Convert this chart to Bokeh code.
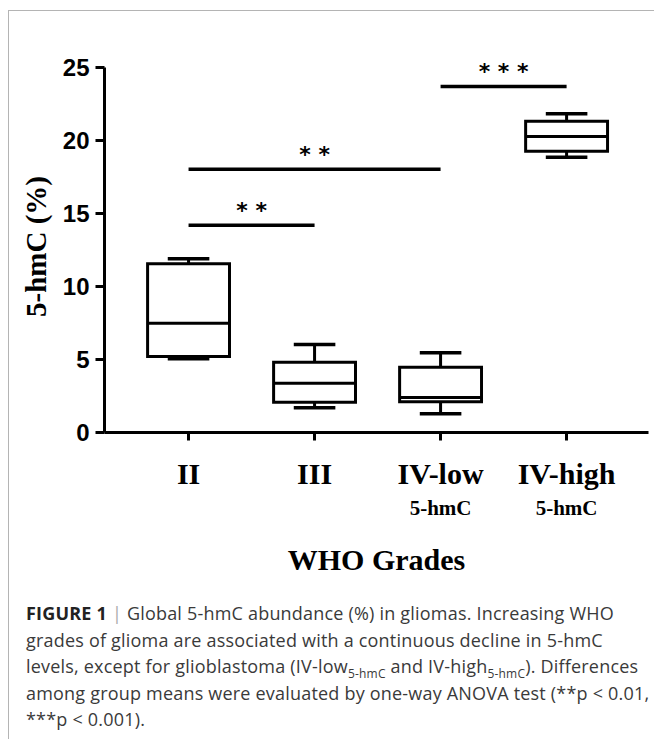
from bokeh.plotting import figure
from bokeh.models import FixedTicker, LinearAxis, Div, Range1d
from bokeh.layouts import column
from bokeh.embed import file_html
from bokeh.resources import INLINE
from bokeh.core.properties import value

# ---- data ----
groups = ["II", "III", "IV-low", "IV-high"]
group_sub = ["", "", "5-hmC", "5-hmC"]
whisker_low = [5.05, 1.69, 1.28, 18.86]
q1 = [5.2, 2.08, 2.1, 19.27]
median = [7.49, 3.38, 2.4, 20.27]
q3 = [11.55, 4.82, 4.47, 21.32]
whisker_high = [11.9, 6.03, 5.46, 21.83]

sig_from = [0, 0, 2]
sig_to = [1, 2, 3]
sig_level = [14.2, 18.03, 23.7]
sig_text = ["* *", "* *", "* * *"]

y_ticks = [0, 5, 10, 15, 20, 25]

xs = list(range(len(groups)))
box_w = 0.65
cap_w = 0.33

p = figure(width=645, height=584,
           x_range=Range1d(-0.667, 3.65), y_range=Range1d(0, 25.48),
           output_backend="svg", toolbar_location=None,
           min_border_left=95, min_border_right=6,
           min_border_top=49, min_border_bottom=163)
p.outline_line_color = None
p.grid.visible = False
p.background_fill_color = "white"
p.border_fill_color = "white"

# whiskers
p.segment(x0=xs, y0=q3, x1=xs, y1=whisker_high, line_color="black", line_width=3)
p.segment(x0=xs, y0=q1, x1=xs, y1=whisker_low, line_color="black", line_width=3)
# caps
p.segment(x0=[x - cap_w / 2 for x in xs], y0=whisker_high,
          x1=[x + cap_w / 2 for x in xs], y1=whisker_high,
          line_color="black", line_width=3.5)
p.segment(x0=[x - cap_w / 2 for x in xs], y0=whisker_low,
          x1=[x + cap_w / 2 for x in xs], y1=whisker_low,
          line_color="black", line_width=3.5)
# boxes
p.vbar(x=xs, width=box_w, top=q3, bottom=q1, fill_color="white",
       line_color="black", line_width=3, line_join="miter")
# medians
p.segment(x0=[x - box_w / 2 for x in xs], y0=median,
          x1=[x + box_w / 2 for x in xs], y1=median,
          line_color="black", line_width=3)

# significance bars
p.segment(x0=sig_from, y0=sig_level, x1=sig_to, y1=sig_level,
          line_color="black", line_width=3.5)
p.text(x=[(a + b) / 2 for a, b in zip(sig_from, sig_to)], y=sig_level,
       text=sig_text, text_align="center", text_baseline="alphabetic",
       text_font=value("DejaVu Sans"), text_font_style="bold",
       text_font_size="22px", text_color="black", y_offset=-15)

# main x axis: group names
p.xaxis.ticker = FixedTicker(ticks=xs)
p.xaxis.major_label_overrides = {i: g for i, g in enumerate(groups)}
p.xaxis.major_label_text_font = "Liberation Serif"
p.xaxis.major_label_text_font_style = "bold"
p.xaxis.major_label_text_font_size = "30px"
p.xaxis.major_label_text_color = "black"
p.xaxis.major_label_standoff = 16
p.xaxis.minor_tick_line_color = None
p.xaxis.major_tick_in = 0
p.xaxis.major_tick_out = 8
p.xaxis.major_tick_line_width = 3
p.xaxis.axis_line_width = 3

# second x axis (below): sub-labels + axis title
sub_ticks = [x for x, s in zip(xs, group_sub) if s]
ax2 = LinearAxis(ticker=FixedTicker(ticks=sub_ticks),
                 major_label_overrides={x: s for x, s in zip(xs, group_sub) if s},
                 axis_line_color=None, major_tick_line_color=None,
                 minor_tick_line_color=None, major_tick_in=0, major_tick_out=0,
                 major_label_standoff=3,
                 major_label_text_font="Liberation Serif",
                 major_label_text_font_style="bold",
                 major_label_text_font_size="21px",
                 major_label_text_color="black",
                 axis_label="WHO Grades",
                 axis_label_text_font="Liberation Serif",
                 axis_label_text_font_style="bold",
                 axis_label_text_font_size="30px",
                 axis_label_text_color="black",
                 axis_label_standoff=20)
p.add_layout(ax2, "below")

p.yaxis.ticker = FixedTicker(ticks=y_ticks)
p.yaxis.bounds = (y_ticks[0], y_ticks[-1])
p.yaxis.major_label_text_font = "Liberation Sans"
p.yaxis.major_label_text_font_style = "bold"
p.yaxis.major_label_text_font_size = "24px"
p.yaxis.major_label_text_color = "black"
p.yaxis.major_label_standoff = 6
p.yaxis.minor_tick_line_color = None
p.yaxis.major_tick_in = 0
p.yaxis.major_tick_out = 9
p.yaxis.major_tick_line_width = 3
p.yaxis.axis_line_width = 3
p.yaxis.axis_label = "5-hmC (%)"
p.yaxis.axis_label_text_font = "Liberation Serif"
p.yaxis.axis_label_text_font_style = "bold"
p.yaxis.axis_label_text_font_size = "29px"
p.yaxis.axis_label_text_color = "black"
p.yaxis.axis_label_standoff = 8

caption = (
    '<div style="font-family:\'Open Sans\';font-size:18px;line-height:26.5px;'
    'letter-spacing:0.2px;color:#3a3a3a;padding:0 0 0 12px;white-space:nowrap;">'
    '<b style="color:#222">FIGURE 1</b> <span style="color:#aaa">|</span> '
    'Global 5-hmC abundance (%) in gliomas. Increasing WHO<br>'
    'grades of glioma are associated with a continuous decline in 5-hmC<br>'
    'levels, except for glioblastoma (IV-low<sub style="font-size:12px;line-height:0">5-hmC</sub> '
    'and IV-high<sub style="font-size:12px;line-height:0">5-hmC</sub>). Differences<br>'
    'among group means were evaluated by one-way ANOVA test (**p &lt; 0.01,<br>'
    '***p &lt; 0.001).'
    '</div>'
)
div = Div(text=caption, width=645, height=140)

layout = column(p, div, styles={"border-left": "1px solid #b4b4b4",
                                "border-top": "1px solid #b4b4b4",
                                "margin-left": "8px", "margin-top": "10px"})

open("out.html", "w").write(file_html(layout, INLINE))
